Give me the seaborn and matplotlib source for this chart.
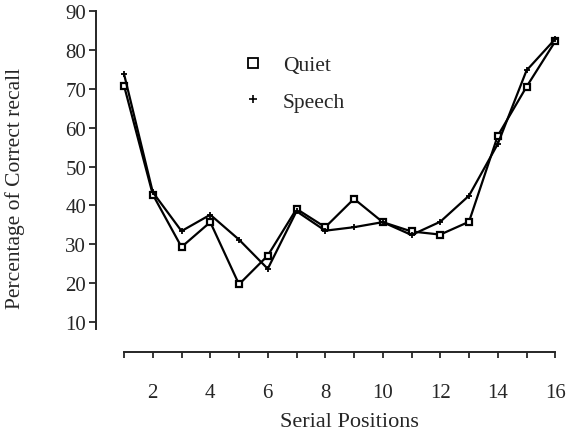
import numpy as np
import pandas as pd
import matplotlib
matplotlib.use("Agg")
import matplotlib.pyplot as plt
import seaborn as sns
from matplotlib.lines import Line2D

# values
positions = list(range(1, 17))
quiet = [70.8, 42.8, 29.3, 35.7, 19.7, 27.1, 39.1, 34.4, 41.7, 35.7, 33.3, 32.5, 35.8, 57.9, 70.5, 82.2]
speech = [73.8, 43.4, 33.4, 37.6, 31.2, 23.7, 38.5, 33.5, 34.4, 35.7, 32.4, 35.8, 42.5, 55.8, 74.7, 82.8]
y_ticks = [10, 20, 30, 40, 50, 60, 70, 80, 90]
x_labels = [str(p) if p % 2 == 0 else "" for p in positions]

sns.set_style("ticks")
plt.rcParams['font.family'] = ['Liberation Serif', 'DejaVu Serif']

df = pd.DataFrame({'pos': positions, 'Quiet': quiet, 'Speech': speech})

fig = plt.figure(figsize=(5.79, 4.39), dpi=100)
ax = fig.add_axes([96 / 579, 1 - 353 / 439, 465 / 579, 341 / 439])

sns.lineplot(data=df, x='pos', y='Quiet', color='black', lw=1.6, marker='s',
             markersize=4.5, markerfacecolor='white', markeredgecolor='black',
             markeredgewidth=1.6, ax=ax)
sns.lineplot(data=df, x='pos', y='Speech', color='black', lw=1.6, marker='+',
             markersize=5, markeredgecolor='black', markeredgewidth=1.3, ax=ax)

ax.set_xlim(0.025, 16.2)
ax.set_ylim(2.3, 90)

for s in ['top', 'right']:
    ax.spines[s].set_visible(False)
ax.spines['left'].set_bounds(8.2, 90)
ax.spines['bottom'].set_bounds(1, 16)
ax.spines['left'].set_linewidth(1.4)
ax.spines['bottom'].set_linewidth(1.4)

ax.set_yticks(y_ticks)
ax.set_yticklabels([str(v) for v in y_ticks])
ax.set_xticks(positions)
ax.set_xticklabels(x_labels)
ax.tick_params(axis='y', direction='out', length=5, width=1.3, pad=2, labelsize=15)
ax.tick_params(axis='x', direction='out', length=4.5, width=1.3, pad=18, labelsize=15)

ax.set_xlabel('Serial Positions', fontsize=16)
ax.set_ylabel('Percentage of Correct recall', fontsize=15.5)
ax.xaxis.set_label_coords(0.546, -0.176)
ax.yaxis.set_label_coords(-0.153, 0.484)

handles = [
    Line2D([], [], color='black', marker='s', linestyle='none', markersize=7,
           markerfacecolor='white', markeredgewidth=1.3),
    Line2D([], [], color='black', marker='+', linestyle='none', markersize=6,
           markeredgewidth=1.2),
]
ax.legend(handles, ['Quiet', 'Speech'], loc='upper left', bbox_to_anchor=(0.314, 0.871),
          frameon=False, fontsize=15.5, labelspacing=0.77, handlelength=1,
          handletextpad=0.9, borderpad=0, borderaxespad=0)

fig.savefig('out.png', dpi=100)
